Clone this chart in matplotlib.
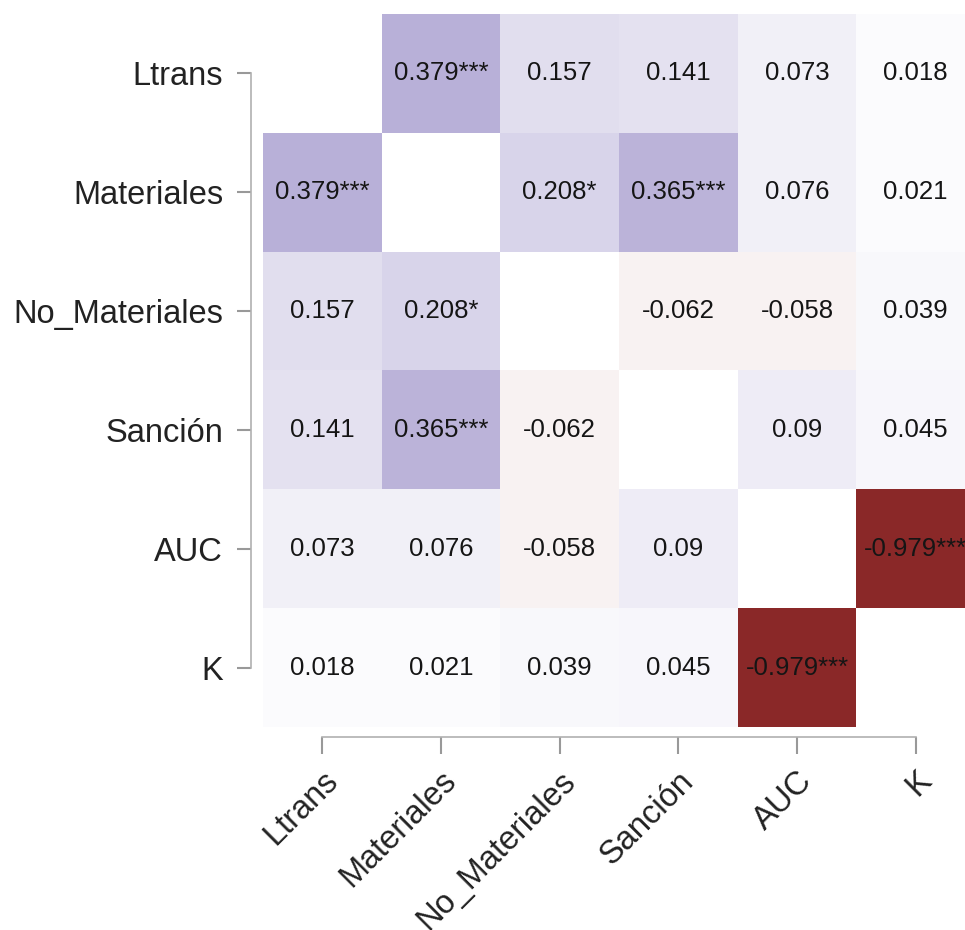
import numpy as np
import matplotlib
matplotlib.use("Agg")
import matplotlib.pyplot as plt
from matplotlib.colors import LinearSegmentedColormap

plt.rcParams['font.family'] = ['Liberation Sans', 'DejaVu Sans']

# variables
labels = ['Ltrans', 'Materiales', 'No_Materiales', 'Sanción', 'AUC', 'K']

# correlation values (nan on the diagonal)
corr = np.array([
    [np.nan, 0.379, 0.157, 0.141, 0.073, 0.018],
    [0.379, np.nan, 0.208, 0.365, 0.076, 0.021],
    [0.157, 0.208, np.nan, -0.062, -0.058, 0.039],
    [0.141, 0.365, -0.062, np.nan, 0.09, 0.045],
    [0.073, 0.076, -0.058, 0.09, np.nan, -0.979],
    [0.018, 0.021, 0.039, 0.045, -0.979, np.nan],
])

# significance stars
stars = [
    ['', '***', '', '', '', ''],
    ['***', '', '*', '***', '', ''],
    ['', '*', '', '', '', ''],
    ['', '***', '', '', '', ''],
    ['', '', '', '', '', '***'],
    ['', '', '', '', '***', ''],
]

cmap = LinearSegmentedColormap.from_list(
    'rp', ['#882525', '#ffffff', '#442f98'])

fig = plt.figure(figsize=(9.65, 9.3), dpi=100)
ax = fig.add_axes([263/965, 1 - 727/930, 712/965, 713/930])

n = len(labels)
ax.pcolormesh(np.arange(n + 1), np.arange(n + 1), np.ma.masked_invalid(corr),
              cmap=cmap, vmin=-1, vmax=1)
ax.set_xlim(0, n)
ax.set_ylim(n, 0)

for i in range(n):
    for j in range(n):
        if np.isnan(corr[i, j]):
            continue
        txt = f"{corr[i, j]:g}" + stars[i][j]
        ax.text(j + 0.5, i + 0.5, txt, ha='center', va='center',
                fontsize=18.5, color='#151515')

# spines first (set_position resets the ticks)
for s in ['top', 'right']:
    ax.spines[s].set_visible(False)
ax.spines['left'].set_position(('outward', 8.6))
ax.spines['bottom'].set_position(('outward', 7.5))
ax.spines['left'].set_bounds(0.5, n - 0.5)
ax.spines['bottom'].set_bounds(0.5, n - 0.5)
for s in ['left', 'bottom']:
    ax.spines[s].set_color('#b0b0b0')
    ax.spines[s].set_linewidth(1.2)

ax.set_xticks(np.arange(n) + 0.5)
ax.set_yticks(np.arange(n) + 0.5)
ax.set_xticklabels(labels, rotation=45, ha='right', va='top',
                   rotation_mode='anchor', fontsize=23.5, color='#222222')
ax.set_yticklabels(labels, fontsize=23.5, color='#222222')
ax.tick_params(axis='both', width=1.5, color='#999999')
ax.tick_params(axis='y', length=10, pad=10)
ax.tick_params(axis='x', length=12, pad=8)

fig.savefig('out.png', dpi=100)
